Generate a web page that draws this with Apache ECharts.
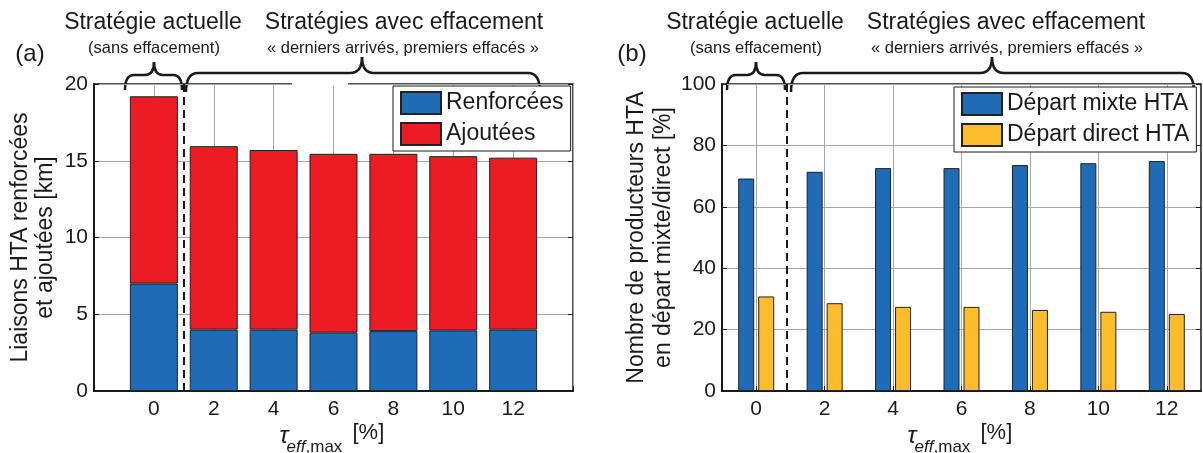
<!DOCTYPE html>
<html><head><meta charset="utf-8">
<script src="https://cdn.jsdelivr.net/npm/echarts/dist/echarts.min.js"></script>
<style>html,body{margin:0;padding:0;background:#fff}#c{width:1203px;height:453px}</style>
</head><body><div id="c"></div>
<script>
// ---- data ----
const tau = [0, 2, 4, 6, 8, 10, 12];
const tauLabels = ['0', '2', '4', '6', '8', '10', '12'];
const renforcees = [7.0, 4.0, 4.0, 3.8, 3.9, 3.95, 4.0];
const ajoutees = [12.2, 11.95, 11.7, 11.65, 11.55, 11.35, 11.2];
const departMixte = [69.2, 71.4, 72.6, 72.6, 73.6, 74.2, 74.9];
const departDirect = [30.8, 28.6, 27.4, 27.4, 26.4, 25.8, 25.1];
const splitA = 1.0;   // dashed separator (a)
const splitB = 0.9;   // dashed separator (b)

// panel (a) x axis runs one step beyond the data on each side (-2 … 14)
const catsA = [''].concat(tauLabels, ['']);
const pad = arr => [null].concat(arr, [null]);

// ---- style ----
const FONT = 'Liberation Sans';
const INK = '#1a1a1a';
const GRIDC = '#a8a8a8';
const BLUE = '#1f6bb5';
const RED = '#ed1c24';
const YEL = '#fcbd2d';
const EDGE = '#222';
const G0 = {left: 94, top: 84, width: 479, height: 307};
const G1 = {left: 722, top: 84, width: 479, height: 307};

const axLine = {show: true, onZero: false, lineStyle: {color: INK, width: 2}};
const axTick = {show: true, inside: true, length: 5, lineStyle: {color: INK, width: 1}};
const axLabel = {fontSize: 21, color: INK, fontFamily: FONT};
const split = {show: true, lineStyle: {color: GRIDC, width: 1}};

function brace(x1, x2, xm, yEnd, yH, yTip, r) {
  const st = {stroke: INK, lineWidth: 2.5, fill: null};
  return [
    {type: 'bezierCurve', shape: {x1: x1, y1: yEnd, cpx1: x1, cpy1: yH, x2: x1 + r, y2: yH}, style: st},
    {type: 'line', shape: {x1: x1 + r, y1: yH, x2: xm - r, y2: yH}, style: st},
    {type: 'bezierCurve', shape: {x1: xm - r, y1: yH, cpx1: xm, cpy1: yH, x2: xm, y2: yTip}, style: st},
    {type: 'bezierCurve', shape: {x1: xm, y1: yTip, cpx1: xm, cpy1: yH, x2: xm + r, y2: yH}, style: st},
    {type: 'line', shape: {x1: xm + r, y1: yH, x2: x2 - r, y2: yH}, style: st},
    {type: 'bezierCurve', shape: {x1: x2 - r, y1: yH, cpx1: x2, cpy1: yH, x2: x2, y2: yEnd}, style: st}
  ];
}
function txt(text, x, y, size, opts) {
  opts = opts || {};
  return {type: 'text', x: x, y: y, z: 50, style: {
    text: text, fill: INK, fontFamily: FONT, fontSize: size,
    fontStyle: opts.italic ? 'italic' : 'normal',
    align: opts.align || 'center', verticalAlign: 'middle'}};
}
function xTitle(g) {
  const xc = g.left + g.width / 2;
  return [
    txt('τ', xc - 54, 436, 24, {italic: true, align: 'left'}),
    txt('eff', xc - 47, 447, 17, {italic: true, align: 'left'}),
    txt(',max', xc - 28, 447, 17, {align: 'left'}),
    txt('[%]', xc + 19, 433, 22, {align: 'left'})
  ];
}

const graphic = [].concat(
  brace(125, 182, 154, 90, 75, 62, 9),
  brace(186, 540, 362, 92, 73, 57, 12),
  brace(727, 785, 756, 90, 75, 62, 9),
  brace(791, 1194, 992, 92, 73, 57, 12),
  [
    {type: 'rect', shape: {x: 292, y: 82.5, width: 56, height: 3}, style: {fill: '#fff'}, z: 40},
    txt('(a)', 30, 54, 24),
    txt('Stratégie actuelle', 153, 23, 23),
    txt('(sans effacement)', 154, 48, 16.5),
    txt('Stratégies avec effacement', 404, 23, 23),
    txt('« derniers arrivés, premiers effacés »', 403, 48, 16.5),
    txt('(b)', 632, 54, 24),
    txt('Stratégie actuelle', 755, 23, 23),
    txt('(sans effacement)', 756, 48, 16.5),
    txt('Stratégies avec effacement', 1006, 23, 23),
    txt('« derniers arrivés, premiers effacés »', 1007, 48, 16.5)
  ],
  xTitle(G0), xTitle(G1)
);

const legendCommon = {
  orient: 'vertical', itemWidth: 40, itemHeight: 22, itemGap: 7,
  padding: [5, 7, 5, 7], backgroundColor: '#fff', borderColor: INK, borderWidth: 1,
  icon: 'rect', textStyle: {fontSize: 23, color: INK, fontFamily: FONT, lineHeight: 22},
  selectedMode: false
};

const dashed = (v) => ({
  silent: true, symbol: 'none', label: {show: false}, emphasis: {disabled: true},
  lineStyle: {type: [8, 5], color: INK, width: 2}, data: [{xAxis: v}]
});

const option = {
  animation: false,
  backgroundColor: '#fff',
  grid: [
    Object.assign({show: true, borderColor: INK, borderWidth: 1.5, backgroundColor: 'transparent'}, G0),
    Object.assign({show: true, borderColor: INK, borderWidth: 1.5, backgroundColor: 'transparent'}, G1)
  ],
  xAxis: [
    {gridIndex: 0, type: 'category', data: catsA, boundaryGap: false,
     axisLine: axLine, axisTick: axTick, splitLine: split,
     axisLabel: Object.assign({margin: 8, interval: 0}, axLabel)},
    {gridIndex: 1, type: 'category', data: tauLabels, boundaryGap: true,
     axisLine: axLine, axisTick: Object.assign({alignWithLabel: true}, axTick),
     splitLine: Object.assign({alignWithLabel: true}, split),
     axisLabel: Object.assign({margin: 8, interval: 0}, axLabel)},
    {gridIndex: 1, type: 'value', min: -1, max: 13, show: false},
    {gridIndex: 0, type: 'value', min: -2, max: 14, show: false}
  ],
  yAxis: [
    {gridIndex: 0, type: 'value', min: 0, max: 20, interval: 5,
     name: 'Liaisons HTA renforcées\net ajoutées [km]', nameLocation: 'middle', nameGap: 36,
     nameTextStyle: {fontSize: 23, lineHeight: 25, color: INK, fontFamily: FONT},
     axisLine: axLine, axisTick: axTick, splitLine: split,
     axisLabel: Object.assign({margin: 6}, axLabel)},
    {gridIndex: 1, type: 'value', min: 0, max: 100, interval: 20,
     name: 'Nombre de producteurs HTA\nen départ mixte/direct [%]', nameLocation: 'middle', nameGap: 45,
     nameTextStyle: {fontSize: 23, lineHeight: 27, color: INK, fontFamily: FONT},
     axisLine: axLine, axisTick: axTick, splitLine: split,
     axisLabel: Object.assign({margin: 6}, axLabel)},
    {gridIndex: 0, type: 'value', position: 'right', min: 0, max: 20, interval: 5,
     axisLine: {show: false, onZero: false}, axisTick: axTick, axisLabel: {show: false}, splitLine: {show: false}},
    {gridIndex: 1, type: 'value', position: 'right', min: 0, max: 100, interval: 20,
     axisLine: {show: false, onZero: false}, axisTick: axTick, axisLabel: {show: false}, splitLine: {show: false}}
  ],
  legend: [
    Object.assign({left: 393, top: 86, data: ['Renforcées', 'Ajoutées']}, legendCommon),
    Object.assign({left: 954, top: 87, data: ['Départ mixte HTA', 'Départ direct HTA']}, legendCommon)
  ],
  series: [
    {name: 'Renforcées', type: 'bar', xAxisIndex: 0, yAxisIndex: 0, stack: 'km', barWidth: 48,
     data: pad(renforcees),
     itemStyle: {color: BLUE, borderColor: EDGE, borderWidth: 1}},
    {name: 'Ajoutées', type: 'bar', xAxisIndex: 0, yAxisIndex: 0, stack: 'km', barWidth: 48,
     data: pad(ajoutees),
     itemStyle: {color: RED, borderColor: EDGE, borderWidth: 1}},
    {name: 'Départ mixte HTA', type: 'bar', xAxisIndex: 1, yAxisIndex: 1, barWidth: 16, barGap: '25%',
     data: departMixte, itemStyle: {color: BLUE, borderColor: EDGE, borderWidth: 1}},
    {name: 'Départ direct HTA', type: 'bar', xAxisIndex: 1, yAxisIndex: 1, barWidth: 16, barGap: '25%',
     data: departDirect, itemStyle: {color: YEL, borderColor: EDGE, borderWidth: 1}},
    {type: 'line', xAxisIndex: 2, yAxisIndex: 1, data: [], symbol: 'none',
     markLine: dashed(splitB)},
    {type: 'line', xAxisIndex: 3, yAxisIndex: 0, data: [], symbol: 'none',
     markLine: dashed(splitA)}
  ],
  graphic: graphic
};

const chart = echarts.init(document.getElementById('c'), null, {renderer: 'canvas'});
chart.setOption(option);
</script></body></html>
